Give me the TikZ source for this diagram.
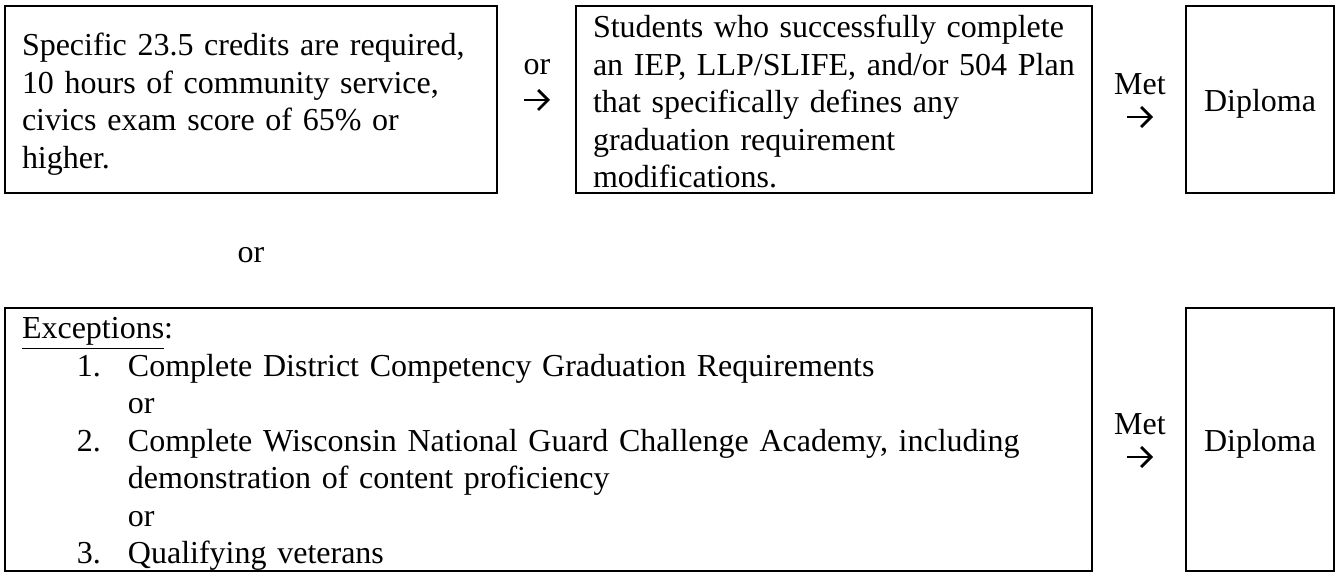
\documentclass[tikz,border=0pt]{standalone}
\usepackage{fontspec}
\setmainfont{Liberation Serif}
\usepackage{tikz}
\usetikzlibrary{positioning}
\usetikzlibrary{arrows.meta}

% struts that fix where the first and last baselines sit in a box
\newcommand{\boxtop}[1]{\rule{0pt}{#1}}
\newcommand{\boxbot}[1]{\rule[-#1]{0pt}{#1}}
\tikzset{
    box/.style={draw, line width=0.6pt, align=left, inner xsep=8.5pt, inner ysep=0pt,
        font=\fontsize{16}{18.75}\selectfont},
    lbl/.style={inner sep=0pt, font=\fontsize{16}{18.75}\selectfont},
    arr/.style={-{Straight Barb[length=5pt, width=10pt]}, line width=1.4pt}
}

\begin{document}
\begin{tikzpicture}[x=0.5pt, y=-0.5pt]
    \useasboundingbox (0,0) rectangle (1340,576);
    \node[box, text width=229pt, minimum height=93.5pt] (req) at (251,99.5) {
        \boxtop{24.75pt}Specific 23.5 credits are required,\\
        10 hours of community service,\\
        civics exam score of 65\% or\\
        higher.\boxbot{12.25pt}};
    \node[box, text width=241pt, minimum height=93.5pt] (iep) at (834,99.5) {
        \boxtop{15.75pt}Students who successfully complete\\
        an IEP, LLP/SLIFE, and/or 504 Plan\\
        that specifically defines any\\
        graduation requirement\\
        modifications.\boxbot{2.55pt}};
    \node[box, align=center, minimum width=74pt, minimum height=93.5pt] (dip1) at (1260,99.5) {\boxtop{52.75pt}Diploma\boxbot{40.55pt}};
    \node[box, text width=526.5pt, minimum height=131.5pt] (exc) at (548.5,439.5) {
        \boxtop{15.3pt}\underline{Exceptions}:\\
        \hspace*{27.5pt}\makebox[25.5pt][l]{1.}Complete District Competency Graduation Requirements\\
        \hspace*{53pt}or\\
        \hspace*{27.5pt}\makebox[25.5pt][l]{2.}Complete Wisconsin National Guard Challenge Academy, including\\
        \hspace*{53pt}demonstration of content proficiency\\
        \hspace*{53pt}or\\
        \hspace*{27.5pt}\makebox[25.5pt][l]{3.}Qualifying veterans\boxbot{3.5pt}};
    \node[box, align=center, minimum width=74pt, minimum height=131.5pt] (dip2) at (1260,439.5) {\boxtop{71.75pt}Diploma\boxbot{59.55pt}};

    \node[lbl] (or1) at (537,67) {or};
    \node[lbl] (met1) at (1140,84) {Met};
    \node[lbl] (met2) at (1140,424) {Met};
    \node[lbl] (orMid) at (251,255) {or};

    \coordinate (a1s) at (524,100);  \coordinate (a1e) at (550,100);
    \coordinate (a2s) at (1127,117); \coordinate (a2e) at (1153,117);
    \coordinate (a3s) at (1127,457); \coordinate (a3e) at (1153,457);
    \draw[arr] (a1s) -- (a1e);
    \draw[arr] (a2s) -- (a2e);
    \draw[arr] (a3s) -- (a3e);
\end{tikzpicture}
\end{document}
